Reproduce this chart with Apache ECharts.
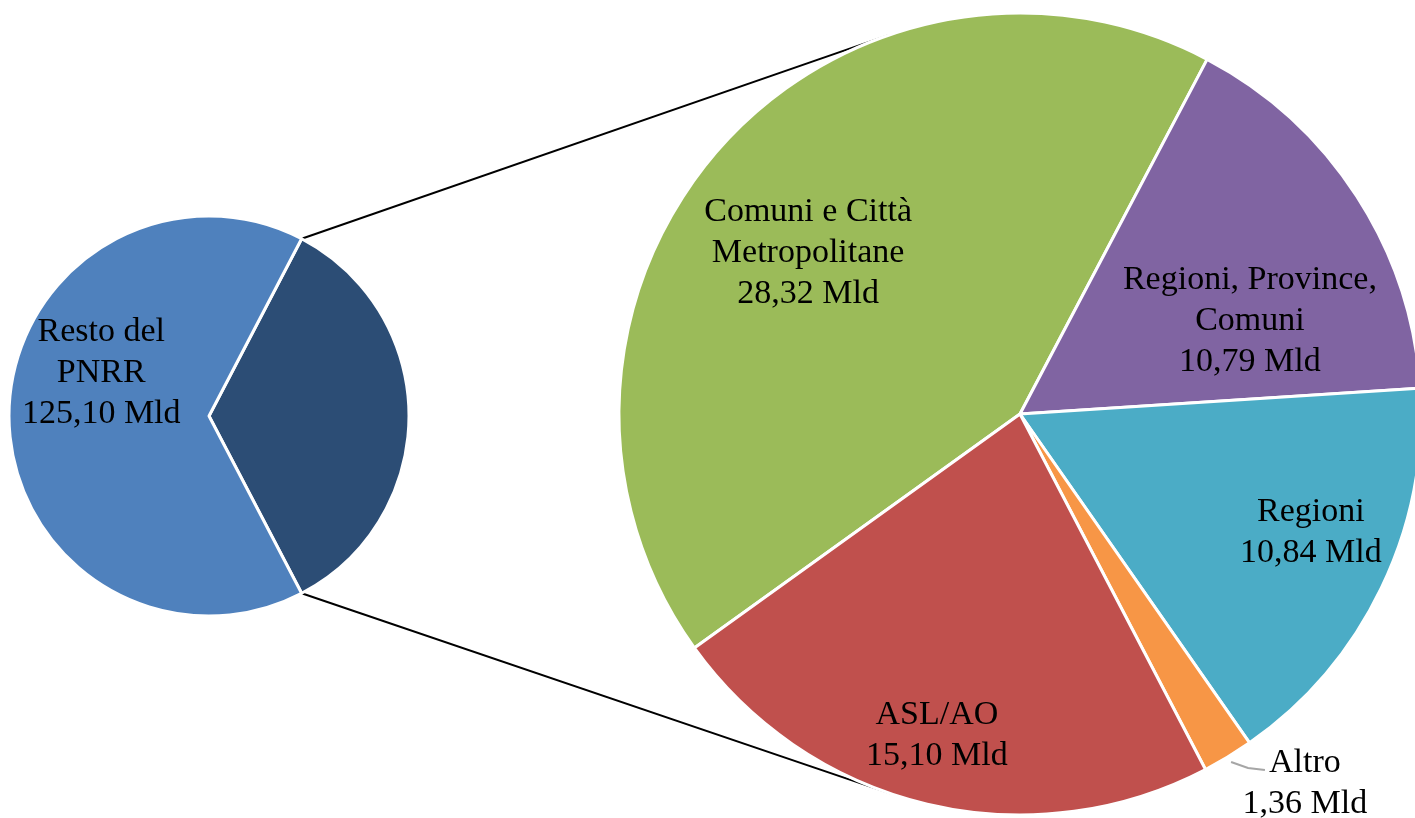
<!DOCTYPE html>
<html>
<head>
<meta charset="utf-8">
<title>PNRR</title>
<script src="https://cdn.jsdelivr.net/npm/echarts@6/dist/echarts.min.js"></script>
<style>
  html, body { margin: 0; padding: 0; background: #fff; }
  #chart { width: 1415px; height: 818px; }
</style>
</head>
<body>
<div id="chart"></div>
<script>
// data (Mld di euro)
const restName = 'Resto del\nPNRR'
const restValue = 125.10
const detailNames = ['Comuni e Città\nMetropolitane', 'Regioni, Province,\nComuni', 'Regioni', 'Altro', 'ASL/AO']
const detailValues = [28.32, 10.79, 10.84, 1.36, 15.10]
const detailColors = ['#9BBB59', '#8064A2', '#4BACC6', '#F79646', '#C0504D']

// geometry
const leftPie = { cx: 209, cy: 416, r: 200 }
const rightPie = { cx: 1020, cy: 414, r: 401 }
const rightStart = 215.7

// label spots: [distance from centre, angle in degrees]
const leftSpots = [null, [116, 158.3]]
const rightSpots = [[266, 142.8], [248, 22.0], [314, -22.1], [467, -52.4], [332, -104.5]]

const font = { fontFamily: 'Liberation Serif', fontSize: 34, lineHeight: 41, color: '#000' }

const detailSum = detailValues.reduce((a, b) => a + b, 0)
const total = detailSum + restValue
const leftStart = (detailSum / total) * 180

const fmt = (v) => v.toFixed(2).replace('.', ',') + ' Mld'

const polar = (pie, dist, deg) => {
  const a = (deg * Math.PI) / 180
  return [pie.cx + dist * Math.cos(a), pie.cy - dist * Math.sin(a)]
}

// middle angle of each slice of the right pie
let acc = rightStart
const midAngles = detailValues.map((v) => {
  const span = (v / detailSum) * 360
  const mid = acc - span / 2
  acc -= span
  return mid
})

// tangent from the split points of the left pie to the right pie
const tangentLine = (sign) => {
  const p = polar(leftPie, leftPie.r, sign * leftStart)
  const dx = p[0] - rightPie.cx
  const dy = p[1] - rightPie.cy
  const d = Math.sqrt(dx * dx + dy * dy)
  const phi = Math.atan2(dy, dx)
  const t = phi + (sign > 0 ? 1 : -1) * Math.acos(rightPie.r / d)
  return {
    type: 'line',
    shape: { x1: p[0], y1: p[1], x2: rightPie.cx + rightPie.r * Math.cos(t), y2: rightPie.cy + rightPie.r * Math.sin(t) },
    style: { stroke: '#000', lineWidth: 2 },
    silent: true,
  }
}

const chart = echarts.init(document.getElementById('chart'))

const option = {
  animation: false,
  graphic: [tangentLine(1), tangentLine(-1)],
  series: [
    {
      type: 'pie',
      center: [leftPie.cx, leftPie.cy],
      radius: leftPie.r,
      startAngle: leftStart,
      clockwise: true,
      silent: true,
      avoidLabelOverlap: false,
      itemStyle: { borderColor: '#fff', borderWidth: 3 },
      label: { show: true, position: 'inside', ...font, formatter: (p) => p.name + '\n' + fmt(p.value) },
      labelLine: { show: false },
      labelLayout: (p) => {
        const s = leftSpots[p.dataIndex]
        if (!s) return {}
        const pt = polar(leftPie, s[0], s[1])
        return { x: pt[0], y: pt[1], align: 'center', verticalAlign: 'middle' }
      },
      data: [
        { name: 'Enti', value: detailSum, itemStyle: { color: '#2C4D75' }, label: { show: false } },
        { name: restName, value: restValue, itemStyle: { color: '#4F81BD' } },
      ],
    },
    {
      type: 'pie',
      center: [rightPie.cx, rightPie.cy],
      radius: rightPie.r,
      startAngle: rightStart,
      clockwise: true,
      silent: true,
      avoidLabelOverlap: false,
      itemStyle: { borderColor: '#fff', borderWidth: 3 },
      label: { show: true, position: 'inside', ...font, formatter: (p) => p.name + '\n' + fmt(p.value) },
      labelLine: { show: false },
      labelLayout: (p) => {
        const s = rightSpots[p.dataIndex]
        const pt = polar(rightPie, s[0], s[1])
        const res = { x: pt[0], y: pt[1], align: 'center', verticalAlign: 'middle' }
        if (detailNames[p.dataIndex] === 'Altro') {
          const a = polar(rightPie, rightPie.r + 6, midAngles[p.dataIndex])
          const b = [pt[0] - 40, pt[1] - 14]
          res.labelLinePoints = [a, [(a[0] + b[0]) / 2, (a[1] + b[1]) / 2 + 2], b]
        }
        return res
      },
      data: detailNames.map((name, i) => {
        const item = { name, value: detailValues[i], itemStyle: { color: detailColors[i] } }
        if (name === 'Altro') {
          item.label = { position: 'outside' }
          item.labelLine = { show: true, lineStyle: { color: '#A6A6A6', width: 2 } }
        }
        return item
      }),
    },
  ],
}

chart.setOption(option)
</script>
</body>
</html>
